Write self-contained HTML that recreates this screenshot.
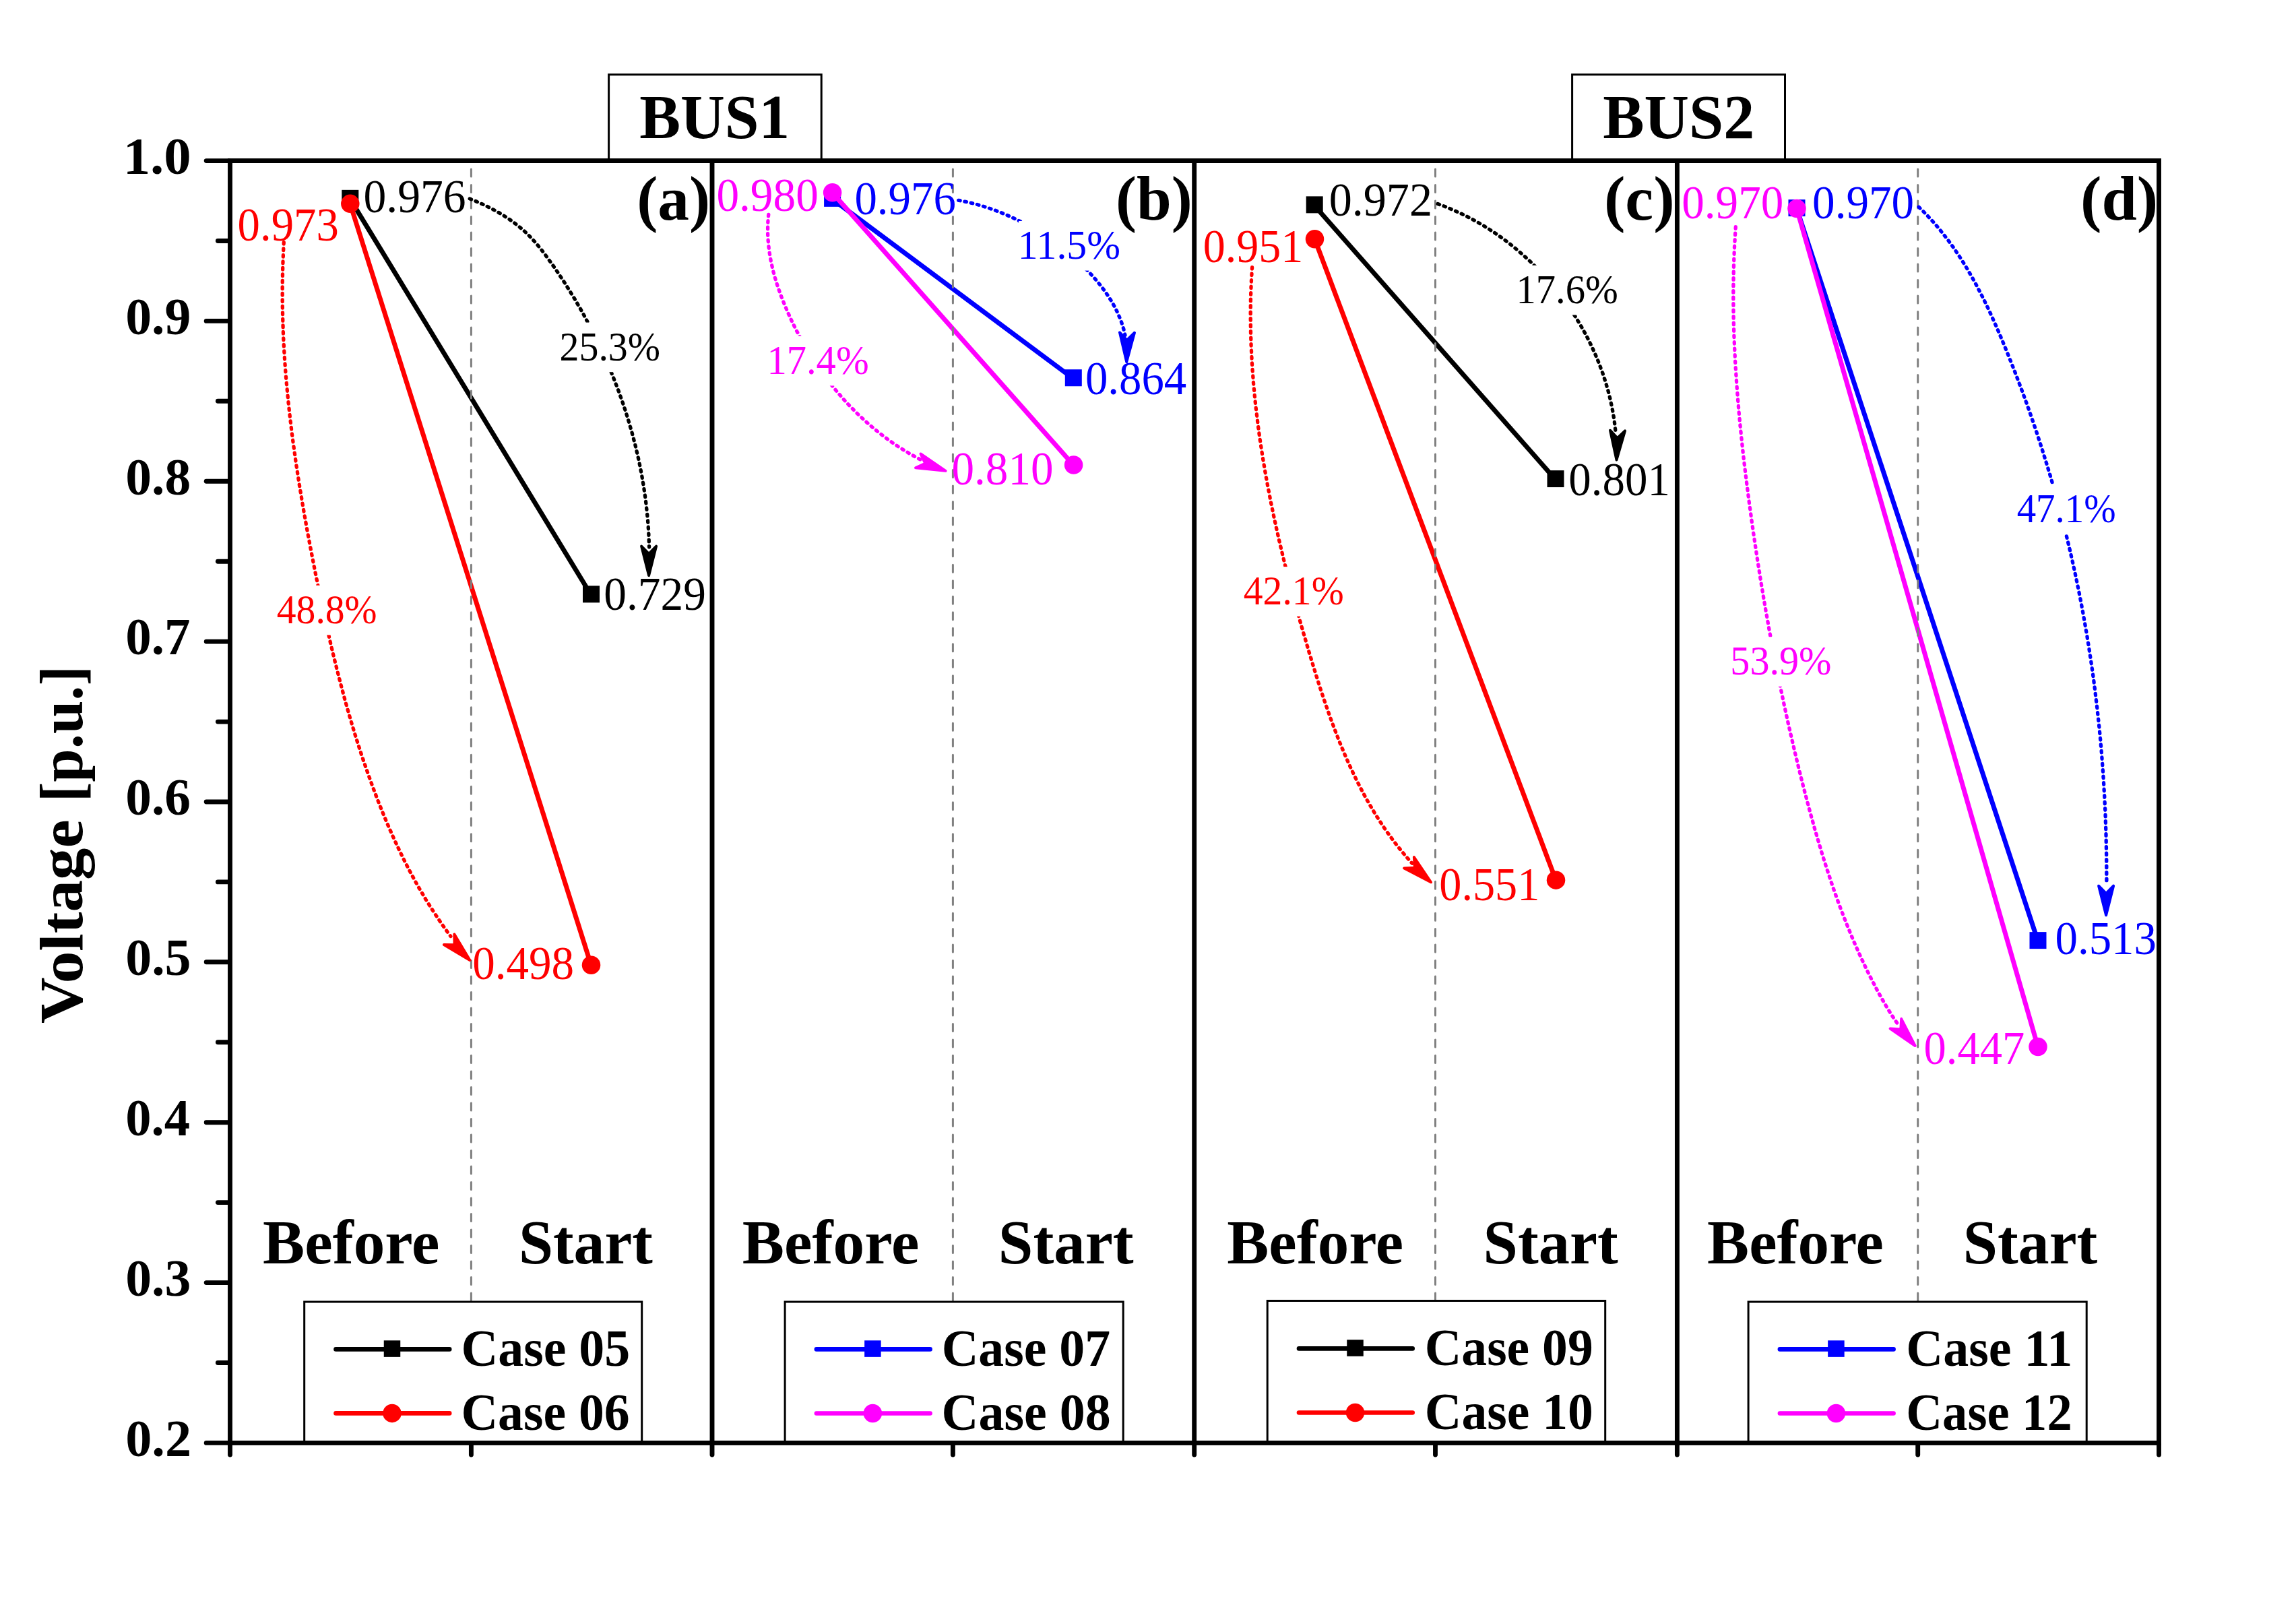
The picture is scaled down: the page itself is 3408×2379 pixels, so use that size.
<!DOCTYPE html>
<html lang="en"><head><meta charset="utf-8"><title>Voltage chart</title>
<style>html,body{margin:0;padding:0;background:#fff}body{width:3408px;height:2379px;overflow:hidden}</style></head>
<body>
<svg width="3408" height="2379" viewBox="0 0 3408 2379" font-family="'Liberation Serif', serif" style="display:block">
<rect width="3408" height="2379" fill="#fff"/>
<line x1="519.8" y1="295.6" x2="877.5" y2="883.2" stroke="#000000" stroke-width="7.0"/>
<rect x="507.30" y="281.84" width="25.0" height="25.0" fill="#000000"/>
<rect x="865.00" y="869.35" width="25.0" height="25.0" fill="#000000"/>
<line x1="519.8" y1="302.8" x2="877.5" y2="1432.6" stroke="#ff0000" stroke-width="7.0"/>
<circle cx="519.8" cy="302.37" r="13.75" fill="#ff0000"/>
<circle cx="877.5" cy="1432.21" r="13.75" fill="#ff0000"/>
<line x1="1235.6" y1="295.6" x2="1593.3" y2="562.0" stroke="#0000ff" stroke-width="7.0"/>
<rect x="1223.10" y="281.84" width="25.0" height="25.0" fill="#0000ff"/>
<rect x="1580.80" y="548.24" width="25.0" height="25.0" fill="#0000ff"/>
<line x1="1235.6" y1="286.1" x2="1593.6" y2="690.5" stroke="#ff00ff" stroke-width="7.0"/>
<circle cx="1235.6" cy="285.72" r="13.75" fill="#ff00ff"/>
<circle cx="1593.6" cy="690.08" r="13.75" fill="#ff00ff"/>
<line x1="1951.2" y1="305.2" x2="2309" y2="711.9" stroke="#000000" stroke-width="7.0"/>
<rect x="1938.70" y="291.35" width="25.0" height="25.0" fill="#000000"/>
<rect x="2296.50" y="698.09" width="25.0" height="25.0" fill="#000000"/>
<line x1="1951.5" y1="355.1" x2="2309.5" y2="1306.5" stroke="#ff0000" stroke-width="7.0"/>
<circle cx="1951.5" cy="354.70" r="13.75" fill="#ff0000"/>
<circle cx="2309.5" cy="1306.14" r="13.75" fill="#ff0000"/>
<line x1="2667" y1="309.9" x2="3025" y2="1396.9" stroke="#0000ff" stroke-width="7.0"/>
<rect x="2654.50" y="296.11" width="25.0" height="25.0" fill="#0000ff"/>
<rect x="3012.50" y="1383.13" width="25.0" height="25.0" fill="#0000ff"/>
<line x1="2667" y1="309.9" x2="3025" y2="1553.9" stroke="#ff00ff" stroke-width="7.0"/>
<circle cx="2667" cy="309.51" r="13.75" fill="#ff00ff"/>
<circle cx="3025" cy="1553.52" r="13.75" fill="#ff00ff"/>
<line x1="699.4" y1="251.1" x2="699.4" y2="1935" stroke="#808080" stroke-width="3" stroke-linecap="round" stroke-dasharray="11 12.49" stroke-dashoffset="0"/>
<line x1="1414.4" y1="251.1" x2="1414.4" y2="1935" stroke="#808080" stroke-width="3" stroke-linecap="round" stroke-dasharray="11 12.49" stroke-dashoffset="0"/>
<line x1="2130.5" y1="251.1" x2="2130.5" y2="1935" stroke="#808080" stroke-width="3" stroke-linecap="round" stroke-dasharray="11 12.49" stroke-dashoffset="0"/>
<line x1="2846.7" y1="251.1" x2="2846.7" y2="1935" stroke="#808080" stroke-width="3" stroke-linecap="round" stroke-dasharray="11 12.49" stroke-dashoffset="0"/>
<path d="M697.2,294.9 L702.4,297.1 L707.6,299.2 L712.7,301.5 L717.8,303.8 L722.8,306.2 L727.8,308.7 L732.7,311.3 L737.5,314.0 L742.3,316.7 L747.0,319.6 L751.6,322.5 L756.1,325.5 L760.6,328.7 L764.9,331.9 L769.2,335.2 L773.3,338.7 L777.4,342.2 L781.4,345.9 L785.2,349.7 L789.0,353.6 L792.6,357.6 L796.2,361.7 L799.7,365.8 L803.1,370.1 L806.5,374.4 L809.8,378.7 L813.0,383.1 L816.2,387.6 L819.4,392.0 L822.6,396.5 L825.7,401.1 L828.8,405.6 L831.8,410.2 L834.9,414.7 L837.9,419.3 L840.8,424.0 L843.7,428.6 L846.6,433.3 L849.5,438.0 L852.4,442.7 L855.2,447.4 L857.9,452.2 L860.7,456.9 L863.4,461.7 L866.1,466.5 L868.7,471.4 L871.3,476.2 L873.9,481.1 L876.5,485.9 L879.0,490.8 L881.5,495.8 L883.9,500.7 L886.3,505.6 L888.7,510.6 L891.1,515.6 L893.4,520.6 L895.7,525.6 L897.9,530.6 L900.2,535.6 L902.3,540.7 L904.5,545.7 L906.6,550.8 L908.7,555.9 L910.7,561.0 L912.7,566.1 L914.7,571.3 L916.7,576.4 L918.6,581.5 L920.4,586.7 L922.3,591.9 L924.1,597.1 L925.8,602.3 L927.6,607.5 L929.3,612.7 L930.9,617.9 L932.5,623.2 L934.1,628.4 L935.6,633.7 L937.2,639.0 L938.6,644.2 L940.0,649.5 L941.4,654.8 L942.8,660.1 L944.1,665.5 L945.3,670.8 L946.6,676.1 L947.8,681.5 L948.9,686.8 L950.0,692.2 L951.1,697.6 L952.1,703.0 L953.1,708.3 L954.0,713.7 L954.9,719.1 L955.8,724.6 L956.6,730.0 L957.4,735.4 L958.1,740.8 L958.8,746.3 L959.4,751.7 L960.0,757.2 L960.6,762.6 L961.1,768.1 L961.6,773.5 L962.0,779.0 L962.4,784.5 L962.7,790.0 L963.0,795.5 L963.2,801.0 L963.4,806.5 L963.6,812.0" fill="none" stroke="#000000" stroke-width="5.3" stroke-linecap="round" stroke-dasharray="2.6 6.9"/>
<polygon points="963.1,854.1 952.1,810.6 963.1,821.8 974.1,810.6" fill="#000000" stroke="#000000" stroke-width="4.0" stroke-linejoin="round"/>
<path d="M421.3,359.5 L420.8,369.0 L420.4,378.5 L420.0,388.0 L419.7,397.4 L419.5,406.9 L419.3,416.3 L419.2,425.8 L419.2,435.2 L419.2,444.6 L419.3,454.1 L419.5,463.5 L419.7,472.9 L420.0,482.3 L420.3,491.7 L420.7,501.1 L421.2,510.5 L421.7,519.9 L422.3,529.3 L422.9,538.7 L423.6,548.0 L424.3,557.4 L425.1,566.8 L426.0,576.1 L426.9,585.5 L427.8,594.9 L428.8,604.2 L429.8,613.6 L430.9,622.9 L432.0,632.2 L433.1,641.6 L434.3,650.9 L435.6,660.2 L436.9,669.6 L438.2,678.9 L439.5,688.2 L440.9,697.5 L442.4,706.8 L443.8,716.1 L445.3,725.4 L446.9,734.7 L448.4,744.0 L450.0,753.3 L451.6,762.6 L453.3,771.9 L454.9,781.2 L456.6,790.5 L458.4,799.8 L460.1,809.0 L461.9,818.3 L463.7,827.6 L465.5,836.9 L467.3,846.1 L469.2,855.4 L471.1,864.7 L473.0,873.9 L474.9,883.2 L476.8,892.4 L478.8,901.7 L480.8,910.9 L482.8,920.1 L484.9,929.4 L487.0,938.6 L489.1,947.8 L491.2,957.0 L493.4,966.2 L495.6,975.4 L497.9,984.5 L500.2,993.7 L502.5,1002.8 L504.9,1012.0 L507.3,1021.1 L509.7,1030.2 L512.2,1039.3 L514.7,1048.4 L517.3,1057.4 L519.9,1066.5 L522.6,1075.5 L525.3,1084.6 L528.1,1093.6 L530.9,1102.5 L533.8,1111.5 L536.7,1120.5 L539.7,1129.4 L542.8,1138.3 L545.9,1147.2 L549.0,1156.0 L552.2,1164.9 L555.5,1173.7 L558.8,1182.5 L562.2,1191.3 L565.7,1200.0 L569.2,1208.7 L572.8,1217.4 L576.5,1226.1 L580.3,1234.7 L584.1,1243.3 L588.0,1251.8 L592.0,1260.3 L596.1,1268.8 L600.2,1277.2 L604.5,1285.6 L608.8,1293.9 L613.3,1302.2 L617.8,1310.4 L622.4,1318.6 L627.2,1326.7 L632.0,1334.8 L637.0,1342.8 L642.0,1350.7 L647.2,1358.6 L652.4,1366.4 L657.8,1374.2 L663.3,1381.9 L668.9,1389.5" fill="none" stroke="#ff0000" stroke-width="5.3" stroke-linecap="round" stroke-dasharray="2.6 6.9"/>
<polygon points="697.4,1425.0 658.9,1402.1 674.6,1402.2 674.4,1386.5" fill="#ff0000" stroke="#ff0000" stroke-width="4.0" stroke-linejoin="round"/>
<path d="M1422.6,297.3 L1425.7,297.8 L1428.8,298.4 L1431.9,299.1 L1435.0,299.7 L1438.1,300.4 L1441.1,301.1 L1444.2,301.9 L1447.2,302.7 L1450.3,303.5 L1453.3,304.3 L1456.3,305.2 L1459.3,306.1 L1462.3,307.1 L1465.3,308.0 L1468.2,309.0 L1471.2,310.1 L1474.2,311.1 L1477.1,312.2 L1480.1,313.3 L1483.0,314.4 L1485.9,315.6 L1488.8,316.8 L1491.7,318.0 L1494.6,319.3 L1497.5,320.5 L1500.4,321.8 L1503.2,323.2 L1506.1,324.5 L1508.9,325.9 L1511.8,327.3 L1514.6,328.7 L1517.4,330.1 L1520.2,331.6 L1523.0,333.1 L1525.8,334.6 L1528.6,336.1 L1531.3,337.7 L1534.1,339.3 L1536.8,340.9 L1539.5,342.5 L1542.2,344.2 L1544.9,345.8 L1547.6,347.5 L1550.3,349.2 L1553.0,351.0 L1555.6,352.8 L1558.3,354.5 L1560.9,356.3 L1563.5,358.2 L1566.1,360.0 L1568.6,361.9 L1571.2,363.8 L1573.7,365.7 L1576.3,367.6 L1578.8,369.6 L1581.2,371.6 L1583.7,373.6 L1586.2,375.6 L1588.6,377.6 L1591.0,379.7 L1593.4,381.8 L1595.8,383.9 L1598.2,386.0 L1600.5,388.2 L1602.8,390.3 L1605.1,392.5 L1607.4,394.7 L1609.6,397.0 L1611.9,399.2 L1614.1,401.5 L1616.3,403.8 L1618.5,406.1 L1620.6,408.4 L1622.7,410.8 L1624.8,413.1 L1626.9,415.5 L1628.9,417.9 L1630.9,420.4 L1632.9,422.8 L1634.8,425.3 L1636.7,427.8 L1638.6,430.3 L1640.4,432.9 L1642.2,435.4 L1644.0,438.0 L1645.7,440.6 L1647.4,443.3 L1649.1,445.9 L1650.7,448.6 L1652.2,451.3 L1653.7,454.0 L1655.2,456.7 L1656.6,459.5 L1658.0,462.3 L1659.3,465.1 L1660.5,467.9 L1661.7,470.8 L1662.9,473.6 L1664.0,476.5 L1665.0,479.4 L1666.0,482.4 L1666.9,485.3 L1667.8,488.3 L1668.6,491.3 L1669.3,494.4 L1670.0,497.4" fill="none" stroke="#0000ff" stroke-width="5.3" stroke-linecap="round" stroke-dasharray="2.6 6.9"/>
<polygon points="1672.2,537.1 1662.0,493.4 1672.8,504.8 1684.0,493.8" fill="#0000ff" stroke="#0000ff" stroke-width="4.0" stroke-linejoin="round"/>
<path d="M1140.8,318.3 L1140.3,322.5 L1140.0,326.7 L1139.8,330.8 L1139.6,335.0 L1139.6,339.1 L1139.6,343.2 L1139.6,347.3 L1139.8,351.4 L1140.0,355.5 L1140.4,359.6 L1140.7,363.7 L1141.2,367.8 L1141.7,371.8 L1142.3,375.9 L1142.9,379.9 L1143.7,384.0 L1144.4,388.0 L1145.3,392.0 L1146.2,396.0 L1147.1,400.0 L1148.1,404.0 L1149.2,407.9 L1150.3,411.9 L1151.5,415.8 L1152.7,419.8 L1153.9,423.7 L1155.3,427.6 L1156.6,431.5 L1158.0,435.4 L1159.4,439.3 L1160.9,443.2 L1162.4,447.0 L1164.0,450.9 L1165.6,454.7 L1167.2,458.5 L1168.9,462.3 L1170.5,466.1 L1172.3,469.9 L1174.0,473.7 L1175.8,477.5 L1177.6,481.2 L1179.4,484.9 L1181.3,488.7 L1183.2,492.4 L1185.2,496.1 L1187.1,499.7 L1189.1,503.4 L1191.1,507.0 L1193.2,510.7 L1195.3,514.3 L1197.4,517.9 L1199.5,521.4 L1201.7,525.0 L1203.9,528.5 L1206.2,532.0 L1208.4,535.5 L1210.7,539.0 L1213.0,542.5 L1215.4,545.9 L1217.8,549.3 L1220.2,552.7 L1222.6,556.1 L1225.1,559.4 L1227.6,562.8 L1230.1,566.1 L1232.7,569.3 L1235.2,572.6 L1237.9,575.8 L1240.5,579.0 L1243.2,582.2 L1245.9,585.4 L1248.6,588.5 L1251.3,591.6 L1254.1,594.7 L1256.9,597.7 L1259.7,600.8 L1262.6,603.8 L1265.5,606.7 L1268.4,609.7 L1271.3,612.6 L1274.3,615.5 L1277.3,618.3 L1280.3,621.1 L1283.3,623.9 L1286.4,626.7 L1289.5,629.4 L1292.6,632.1 L1295.8,634.8 L1298.9,637.4 L1302.1,640.0 L1305.4,642.6 L1308.6,645.1 L1311.9,647.6 L1315.2,650.1 L1318.5,652.5 L1321.8,654.9 L1325.2,657.3 L1328.6,659.6 L1332.0,661.9 L1335.5,664.2 L1339.0,666.4 L1342.5,668.6 L1346.0,670.7 L1349.5,672.8 L1353.1,674.9 L1356.7,676.9 L1360.3,678.9 L1363.9,680.8 L1367.6,682.7" fill="none" stroke="#ff00ff" stroke-width="5.3" stroke-linecap="round" stroke-dasharray="2.6 6.9"/>
<polygon points="1403.6,698.8 1359.0,694.2 1373.2,687.7 1366.5,673.5" fill="#ff00ff" stroke="#ff00ff" stroke-width="4.0" stroke-linejoin="round"/>
<path d="M2134.1,302.6 L2138.0,304.0 L2141.9,305.4 L2145.7,306.9 L2149.5,308.5 L2153.4,310.1 L2157.1,311.7 L2160.9,313.4 L2164.7,315.1 L2168.4,316.8 L2172.1,318.6 L2175.8,320.4 L2179.5,322.3 L2183.2,324.2 L2186.8,326.2 L2190.4,328.2 L2194.0,330.3 L2197.6,332.3 L2201.2,334.5 L2204.7,336.6 L2208.2,338.8 L2211.7,341.1 L2215.2,343.3 L2218.7,345.6 L2222.1,348.0 L2225.5,350.4 L2228.9,352.8 L2232.2,355.3 L2235.6,357.7 L2238.9,360.3 L2242.2,362.8 L2245.4,365.4 L2248.7,368.1 L2251.9,370.7 L2255.0,373.4 L2258.2,376.2 L2261.3,378.9 L2264.4,381.7 L2267.5,384.6 L2270.6,387.4 L2273.6,390.3 L2276.6,393.2 L2279.5,396.2 L2282.5,399.2 L2285.4,402.2 L2288.3,405.2 L2291.1,408.3 L2293.9,411.4 L2296.7,414.5 L2299.5,417.6 L2302.2,420.8 L2304.9,424.0 L2307.6,427.3 L2310.2,430.5 L2312.8,433.8 L2315.4,437.1 L2318.0,440.5 L2320.5,443.8 L2322.9,447.2 L2325.4,450.6 L2327.8,454.0 L2330.2,457.5 L2332.5,461.0 L2334.8,464.5 L2337.1,468.0 L2339.3,471.5 L2341.5,475.1 L2343.7,478.7 L2345.8,482.3 L2347.9,485.9 L2349.9,489.6 L2352.0,493.2 L2353.9,496.9 L2355.9,500.6 L2357.8,504.3 L2359.6,508.1 L2361.5,511.8 L2363.3,515.6 L2365.0,519.4 L2366.7,523.2 L2368.4,527.0 L2370.0,530.9 L2371.6,534.7 L2373.2,538.6 L2374.7,542.5 L2376.1,546.4 L2377.6,550.3 L2379.0,554.2 L2380.3,558.1 L2381.6,562.1 L2382.9,566.0 L2384.1,570.0 L2385.2,574.0 L2386.4,578.0 L2387.5,582.0 L2388.5,586.0 L2389.5,590.0 L2390.4,594.1 L2391.3,598.1 L2392.2,602.2 L2393.0,606.2 L2393.8,610.3 L2394.5,614.4 L2395.2,618.5 L2395.8,622.6 L2396.4,626.7 L2396.9,630.8 L2397.4,634.9 L2397.8,639.0 L2398.2,643.1" fill="none" stroke="#000000" stroke-width="5.3" stroke-linecap="round" stroke-dasharray="2.6 6.9"/>
<polygon points="2399.5,682.5 2390.0,638.7 2400.6,650.2 2412.0,639.4" fill="#000000" stroke="#000000" stroke-width="4.0" stroke-linejoin="round"/>
<path d="M1858.6,396.6 L1858.1,404.7 L1857.6,412.9 L1857.2,421.1 L1856.9,429.2 L1856.6,437.4 L1856.4,445.6 L1856.3,453.8 L1856.2,461.9 L1856.2,470.1 L1856.3,478.3 L1856.4,486.5 L1856.5,494.6 L1856.8,502.8 L1857.0,511.0 L1857.4,519.2 L1857.8,527.4 L1858.2,535.5 L1858.7,543.7 L1859.3,551.9 L1859.9,560.0 L1860.5,568.2 L1861.3,576.3 L1862.0,584.5 L1862.8,592.7 L1863.7,600.8 L1864.6,608.9 L1865.6,617.1 L1866.6,625.2 L1867.6,633.3 L1868.7,641.5 L1869.8,649.6 L1871.0,657.7 L1872.3,665.8 L1873.5,673.9 L1874.8,682.0 L1876.2,690.0 L1877.5,698.1 L1879.0,706.2 L1880.4,714.2 L1881.9,722.3 L1883.5,730.3 L1885.0,738.3 L1886.6,746.4 L1888.3,754.4 L1889.9,762.4 L1891.6,770.3 L1893.4,778.3 L1895.1,786.3 L1896.9,794.2 L1898.7,802.2 L1900.6,810.1 L1902.5,818.1 L1904.4,826.0 L1906.3,833.9 L1908.3,841.8 L1910.3,849.7 L1912.3,857.6 L1914.3,865.5 L1916.4,873.4 L1918.5,881.3 L1920.6,889.2 L1922.8,897.1 L1925.0,905.0 L1927.2,912.8 L1929.4,920.7 L1931.6,928.6 L1933.9,936.5 L1936.2,944.3 L1938.5,952.2 L1940.8,960.1 L1943.1,968.0 L1945.5,975.8 L1947.9,983.7 L1950.3,991.6 L1952.7,999.4 L1955.2,1007.3 L1957.7,1015.2 L1960.2,1023.0 L1962.8,1030.8 L1965.4,1038.6 L1968.1,1046.4 L1970.8,1054.2 L1973.5,1062.0 L1976.3,1069.7 L1979.2,1077.4 L1982.1,1085.1 L1985.0,1092.7 L1988.0,1100.4 L1991.1,1107.9 L1994.3,1115.5 L1997.5,1123.0 L2000.8,1130.5 L2004.1,1137.9 L2007.6,1145.3 L2011.1,1152.7 L2014.7,1160.0 L2018.4,1167.3 L2022.1,1174.5 L2026.0,1181.6 L2029.9,1188.7 L2034.0,1195.8 L2038.1,1202.7 L2042.3,1209.7 L2046.7,1216.5 L2051.1,1223.3 L2055.6,1230.1 L2060.3,1236.7 L2065.0,1243.3 L2069.9,1249.8 L2074.9,1256.3 L2080.0,1262.6 L2085.2,1268.9 L2090.6,1275.2 L2096.1,1281.3" fill="none" stroke="#ff0000" stroke-width="5.3" stroke-linecap="round" stroke-dasharray="2.6 6.9"/>
<polygon points="2124.0,1309.3 2084.2,1288.4 2099.9,1287.7 2098.9,1272.0" fill="#ff0000" stroke="#ff0000" stroke-width="4.0" stroke-linejoin="round"/>
<path d="M2848.1,307.2 L2854.9,313.9 L2861.5,320.7 L2867.9,327.6 L2874.1,334.6 L2880.1,341.8 L2885.9,349.1 L2891.6,356.5 L2897.1,364.0 L2902.4,371.6 L2907.6,379.3 L2912.6,387.1 L2917.5,394.9 L2922.2,402.9 L2926.8,410.9 L2931.4,419.0 L2935.7,427.2 L2940.0,435.4 L2944.2,443.7 L2948.3,452.1 L2952.3,460.5 L2956.2,469.0 L2960.0,477.5 L2963.8,486.0 L2967.5,494.6 L2971.1,503.2 L2974.7,511.8 L2978.2,520.4 L2981.7,529.1 L2985.2,537.8 L2988.6,546.5 L2992.0,555.2 L2995.3,563.9 L2998.6,572.7 L3001.9,581.4 L3005.1,590.2 L3008.3,599.0 L3011.4,607.8 L3014.5,616.7 L3017.5,625.5 L3020.5,634.3 L3023.5,643.2 L3026.4,652.1 L3029.3,661.0 L3032.1,669.9 L3034.9,678.8 L3037.7,687.7 L3040.4,696.7 L3043.1,705.6 L3045.7,714.6 L3048.3,723.6 L3050.8,732.6 L3053.3,741.6 L3055.8,750.6 L3058.2,759.6 L3060.6,768.6 L3062.9,777.7 L3065.2,786.7 L3067.4,795.8 L3069.6,804.8 L3071.8,813.9 L3073.9,823.0 L3076.0,832.1 L3078.0,841.2 L3080.0,850.3 L3081.9,859.4 L3083.8,868.6 L3085.7,877.7 L3087.5,886.8 L3089.3,896.0 L3091.0,905.2 L3092.7,914.3 L3094.3,923.5 L3095.9,932.7 L3097.5,941.9 L3099.0,951.1 L3100.5,960.3 L3101.9,969.5 L3103.3,978.7 L3104.7,987.9 L3106.0,997.1 L3107.3,1006.4 L3108.5,1015.6 L3109.7,1024.8 L3110.8,1034.1 L3111.9,1043.3 L3113.0,1052.6 L3114.0,1061.9 L3115.0,1071.1 L3116.0,1080.4 L3116.9,1089.7 L3117.8,1099.0 L3118.6,1108.3 L3119.4,1117.6 L3120.1,1126.9 L3120.8,1136.2 L3121.5,1145.5 L3122.1,1154.8 L3122.7,1164.1 L3123.2,1173.4 L3123.8,1182.7 L3124.2,1192.0 L3124.7,1201.4 L3125.1,1210.7 L3125.4,1220.0 L3125.7,1229.4 L3126.0,1238.7 L3126.2,1248.0 L3126.4,1257.4 L3126.6,1266.7 L3126.7,1276.1 L3126.8,1285.4 L3126.8,1294.8 L3126.9,1304.1 L3126.8,1313.5" fill="none" stroke="#0000ff" stroke-width="5.3" stroke-linecap="round" stroke-dasharray="2.6 6.9"/>
<polygon points="3126.1,1358.2 3115.1,1314.7 3126.1,1325.9 3137.1,1314.7" fill="#0000ff" stroke="#0000ff" stroke-width="4.0" stroke-linejoin="round"/>
<path d="M2576.3,336.7 L2575.6,347.3 L2575.0,357.9 L2574.4,368.5 L2574.0,379.1 L2573.6,389.7 L2573.3,400.3 L2573.1,411.0 L2572.9,421.6 L2572.8,432.2 L2572.8,442.8 L2572.9,453.4 L2573.0,464.0 L2573.2,474.6 L2573.5,485.3 L2573.8,495.9 L2574.2,506.5 L2574.7,517.1 L2575.2,527.7 L2575.7,538.3 L2576.4,548.9 L2577.1,559.5 L2577.8,570.1 L2578.6,580.7 L2579.4,591.3 L2580.3,601.9 L2581.2,612.5 L2582.2,623.1 L2583.2,633.7 L2584.3,644.3 L2585.4,654.9 L2586.5,665.5 L2587.7,676.0 L2588.9,686.6 L2590.2,697.2 L2591.5,707.7 L2592.8,718.3 L2594.2,728.8 L2595.5,739.4 L2596.9,749.9 L2598.4,760.4 L2599.8,771.0 L2601.3,781.5 L2602.8,792.0 L2604.4,802.5 L2605.9,813.0 L2607.5,823.5 L2609.1,834.0 L2610.8,844.5 L2612.4,854.9 L2614.1,865.4 L2615.9,875.9 L2617.6,886.3 L2619.4,896.8 L2621.2,907.2 L2623.1,917.7 L2624.9,928.1 L2626.8,938.6 L2628.8,949.0 L2630.7,959.4 L2632.7,969.8 L2634.7,980.2 L2636.8,990.6 L2638.9,1001.0 L2641.0,1011.4 L2643.1,1021.8 L2645.3,1032.2 L2647.5,1042.6 L2649.8,1053.0 L2652.0,1063.3 L2654.3,1073.7 L2656.7,1084.1 L2659.1,1094.4 L2661.5,1104.8 L2663.9,1115.1 L2666.4,1125.5 L2668.9,1135.8 L2671.4,1146.1 L2674.0,1156.5 L2676.6,1166.8 L2679.3,1177.1 L2682.0,1187.4 L2684.7,1197.7 L2687.5,1208.0 L2690.4,1218.3 L2693.2,1228.6 L2696.2,1238.8 L2699.2,1249.0 L2702.2,1259.2 L2705.3,1269.4 L2708.5,1279.6 L2711.7,1289.7 L2715.1,1299.8 L2718.4,1309.9 L2721.9,1320.0 L2725.4,1330.0 L2729.0,1340.0 L2732.7,1350.0 L2736.5,1359.9 L2740.4,1369.8 L2744.4,1379.6 L2748.4,1389.4 L2752.5,1399.1 L2756.8,1408.8 L2761.1,1418.5 L2765.6,1428.1 L2770.1,1437.7 L2774.8,1447.2 L2779.6,1456.6 L2784.5,1466.0 L2789.5,1475.4 L2794.7,1484.6 L2800.0,1493.7 L2805.5,1502.8 L2811.3,1511.7 L2817.3,1520.4" fill="none" stroke="#ff00ff" stroke-width="5.3" stroke-linecap="round" stroke-dasharray="2.6 6.9"/>
<polygon points="2842.6,1552.0 2805.7,1526.6 2821.3,1527.7 2822.2,1512.1" fill="#ff00ff" stroke="#ff00ff" stroke-width="4.0" stroke-linejoin="round"/>
<rect x="829.0" y="478.6" width="153.1" height="73.6" fill="#fff"/>
<text x="830.51" y="534.80" font-size="61" fill="#000000" textLength="149.55" lengthAdjust="spacingAndGlyphs">25.3%</text>
<rect x="407.8" y="868.8" width="153.9" height="73.6" fill="#fff"/>
<text x="410.74" y="925.00" font-size="61" fill="#ff0000" textLength="148.91" lengthAdjust="spacingAndGlyphs">48.8%</text>
<rect x="1512.1" y="328.0" width="152.9" height="73.6" fill="#fff"/>
<text x="1510.83" y="384.20" font-size="61" fill="#0000ff" textLength="152.18" lengthAdjust="spacingAndGlyphs">11.5%</text>
<rect x="1139.6" y="498.8" width="152.1" height="73.6" fill="#fff"/>
<text x="1138.44" y="555.00" font-size="61" fill="#ff00ff" textLength="151.24" lengthAdjust="spacingAndGlyphs">17.4%</text>
<rect x="2251.6" y="393.8" width="152.2" height="73.6" fill="#fff"/>
<text x="2250.44" y="450.00" font-size="61" fill="#000000" textLength="151.35" lengthAdjust="spacingAndGlyphs">17.6%</text>
<rect x="1842.8" y="841.1" width="154.0" height="73.6" fill="#fff"/>
<text x="1845.74" y="897.30" font-size="61" fill="#ff0000" textLength="149.02" lengthAdjust="spacingAndGlyphs">42.1%</text>
<rect x="2990.7" y="718.4" width="152.1" height="73.6" fill="#fff"/>
<text x="2993.65" y="774.60" font-size="61" fill="#0000ff" textLength="147.08" lengthAdjust="spacingAndGlyphs">47.1%</text>
<rect x="2567.7" y="945.2" width="152.9" height="73.6" fill="#fff"/>
<text x="2568.36" y="1001.40" font-size="61" fill="#ff00ff" textLength="150.20" lengthAdjust="spacingAndGlyphs">53.9%</text>
<text x="539.48" y="315.00" font-size="70.4" fill="#000000" textLength="152.13" lengthAdjust="spacingAndGlyphs">0.976</text>
<text x="352.61" y="356.80" font-size="70.4" fill="#ff0000" textLength="150.17" lengthAdjust="spacingAndGlyphs">0.973</text>
<text x="896.29" y="905.10" font-size="70.4" fill="#000000" textLength="151.53" lengthAdjust="spacingAndGlyphs">0.729</text>
<text x="701.20" y="1453.10" font-size="70.4" fill="#ff0000" textLength="151.00" lengthAdjust="spacingAndGlyphs">0.498</text>
<text x="1063.39" y="312.60" font-size="70.4" fill="#ff00ff" textLength="151.41" lengthAdjust="spacingAndGlyphs">0.980</text>
<text x="1268.41" y="318.00" font-size="70.4" fill="#0000ff" textLength="150.48" lengthAdjust="spacingAndGlyphs">0.976</text>
<text x="1610.91" y="584.90" font-size="70.4" fill="#0000ff" textLength="150.33" lengthAdjust="spacingAndGlyphs">0.864</text>
<text x="1412.50" y="718.90" font-size="70.4" fill="#ff00ff" textLength="151.10" lengthAdjust="spacingAndGlyphs">0.810</text>
<text x="1972.66" y="319.80" font-size="70.4" fill="#000000" textLength="153.37" lengthAdjust="spacingAndGlyphs">0.972</text>
<text x="1785.64" y="389.10" font-size="70.4" fill="#ff0000" textLength="148.62" lengthAdjust="spacingAndGlyphs">0.951</text>
<text x="2328.30" y="734.60" font-size="70.4" fill="#000000" textLength="150.61" lengthAdjust="spacingAndGlyphs">0.801</text>
<text x="2136.33" y="1336.00" font-size="70.4" fill="#ff0000" textLength="149.04" lengthAdjust="spacingAndGlyphs">0.551</text>
<text x="2496.20" y="324.00" font-size="70.4" fill="#ff00ff" textLength="151.10" lengthAdjust="spacingAndGlyphs">0.970</text>
<text x="2690.10" y="323.60" font-size="70.4" fill="#0000ff" textLength="151.10" lengthAdjust="spacingAndGlyphs">0.970</text>
<text x="3050.51" y="1416.00" font-size="70.4" fill="#0000ff" textLength="150.48" lengthAdjust="spacingAndGlyphs">0.513</text>
<text x="2855.52" y="1578.90" font-size="70.4" fill="#ff00ff" textLength="149.76" lengthAdjust="spacingAndGlyphs">0.447</text>
<text x="390.10" y="1875.00" font-size="93" font-weight="bold" fill="#000" textLength="262.31" lengthAdjust="spacingAndGlyphs">Before</text>
<text x="1101.69" y="1875.00" font-size="93" font-weight="bold" fill="#000" textLength="262.72" lengthAdjust="spacingAndGlyphs">Before</text>
<text x="1821.30" y="1875.00" font-size="93" font-weight="bold" fill="#000" textLength="261.81" lengthAdjust="spacingAndGlyphs">Before</text>
<text x="2534.10" y="1875.00" font-size="93" font-weight="bold" fill="#000" textLength="261.81" lengthAdjust="spacingAndGlyphs">Before</text>
<text x="769.99" y="1875.00" font-size="93" font-weight="bold" fill="#000" textLength="198.82" lengthAdjust="spacingAndGlyphs">Start</text>
<text x="1481.84" y="1875.00" font-size="93" font-weight="bold" fill="#000" textLength="200.88" lengthAdjust="spacingAndGlyphs">Start</text>
<text x="2201.56" y="1875.00" font-size="93" font-weight="bold" fill="#000" textLength="200.16" lengthAdjust="spacingAndGlyphs">Start</text>
<text x="2913.67" y="1875.00" font-size="93" font-weight="bold" fill="#000" textLength="199.65" lengthAdjust="spacingAndGlyphs">Start</text>
<text x="945.16" y="325.60" font-size="93" font-weight="bold" fill="#000" textLength="108.93" lengthAdjust="spacingAndGlyphs">(a)</text>
<text x="1656.07" y="325.60" font-size="93" font-weight="bold" fill="#000" textLength="113.77" lengthAdjust="spacingAndGlyphs">(b)</text>
<text x="2380.91" y="325.60" font-size="93" font-weight="bold" fill="#000" textLength="104.74" lengthAdjust="spacingAndGlyphs">(c)</text>
<text x="3088.02" y="325.60" font-size="93" font-weight="bold" fill="#000" textLength="115.17" lengthAdjust="spacingAndGlyphs">(d)</text>
<rect x="451.7" y="1932" width="501.00000000000006" height="209.4" fill="#fff" stroke="#000" stroke-width="3"/>
<line x1="498.5" y1="2002.4" x2="667.2" y2="2002.4" stroke="#000000" stroke-width="6.6" stroke-linecap="round"/>
<rect x="569.75" y="1989.35" width="24.5" height="24.5" fill="#000000"/>
<line x1="498.5" y1="2097.4" x2="667.2" y2="2097.4" stroke="#ff0000" stroke-width="6.6" stroke-linecap="round"/>
<circle cx="582.0" cy="2097.4" r="13.75" fill="#ff0000"/>
<text x="684.43" y="2027.00" font-size="77.5" font-weight="bold" fill="#000" textLength="250.81" lengthAdjust="spacingAndGlyphs">Case 05</text>
<text x="684.44" y="2121.80" font-size="77.5" font-weight="bold" fill="#000" textLength="250.19" lengthAdjust="spacingAndGlyphs">Case 06</text>
<rect x="1165.1" y="1932" width="502.10000000000014" height="209.4" fill="#fff" stroke="#000" stroke-width="3"/>
<line x1="1211.9" y1="2002.4" x2="1380.6" y2="2002.4" stroke="#0000ff" stroke-width="6.6" stroke-linecap="round"/>
<rect x="1283.15" y="1989.35" width="24.5" height="24.5" fill="#0000ff"/>
<line x1="1211.9" y1="2097.5" x2="1380.6" y2="2097.5" stroke="#ff00ff" stroke-width="6.6" stroke-linecap="round"/>
<circle cx="1295.3999999999999" cy="2097.5" r="13.75" fill="#ff00ff"/>
<text x="1397.63" y="2027.00" font-size="77.5" font-weight="bold" fill="#000" textLength="250.53" lengthAdjust="spacingAndGlyphs">Case 07</text>
<text x="1397.62" y="2121.90" font-size="77.5" font-weight="bold" fill="#000" textLength="251.15" lengthAdjust="spacingAndGlyphs">Case 08</text>
<rect x="1881.2" y="1930.5" width="501.4999999999998" height="210.9" fill="#fff" stroke="#000" stroke-width="3"/>
<line x1="1928.0" y1="2001.4" x2="2096.7" y2="2001.4" stroke="#000000" stroke-width="6.6" stroke-linecap="round"/>
<rect x="1999.25" y="1988.35" width="24.5" height="24.5" fill="#000000"/>
<line x1="1928.0" y1="2096.5" x2="2096.7" y2="2096.5" stroke="#ff0000" stroke-width="6.6" stroke-linecap="round"/>
<circle cx="2011.5" cy="2096.5" r="13.75" fill="#ff0000"/>
<text x="2114.74" y="2026.00" font-size="77.5" font-weight="bold" fill="#000" textLength="249.97" lengthAdjust="spacingAndGlyphs">Case 09</text>
<text x="2114.74" y="2120.90" font-size="77.5" font-weight="bold" fill="#000" textLength="250.22" lengthAdjust="spacingAndGlyphs">Case 10</text>
<rect x="2595.1" y="1932" width="502.0999999999999" height="209.4" fill="#fff" stroke="#000" stroke-width="3"/>
<line x1="2641.9" y1="2002.4" x2="2810.6" y2="2002.4" stroke="#0000ff" stroke-width="6.6" stroke-linecap="round"/>
<rect x="2713.15" y="1989.35" width="24.5" height="24.5" fill="#0000ff"/>
<line x1="2641.9" y1="2097.5" x2="2810.6" y2="2097.5" stroke="#ff00ff" stroke-width="6.6" stroke-linecap="round"/>
<circle cx="2725.4" cy="2097.5" r="13.75" fill="#ff00ff"/>
<text x="2829.22" y="2027.00" font-size="77.5" font-weight="bold" fill="#000" textLength="247.11" lengthAdjust="spacingAndGlyphs">Case 11</text>
<text x="2829.29" y="2121.90" font-size="77.5" font-weight="bold" fill="#000" textLength="246.38" lengthAdjust="spacingAndGlyphs">Case 12</text>
<rect x="903.6" y="110.7" width="315.6" height="127.9" fill="#fff" stroke="#000" stroke-width="3"/>
<text x="949.13" y="204.90" font-size="93" font-weight="bold" fill="#000" textLength="223.07" lengthAdjust="spacingAndGlyphs">BUS1</text>
<rect x="2333.6" y="110.7" width="315.9" height="127.9" fill="#fff" stroke="#000" stroke-width="3"/>
<text x="2379.22" y="204.90" font-size="93" font-weight="bold" fill="#000" textLength="224.98" lengthAdjust="spacingAndGlyphs">BUS2</text>
<g stroke="#000" stroke-width="6.9" fill="none">
<rect x="341.5" y="238.55" width="2863.0" height="1902.9"/>
<line x1="1057.0" y1="238.55" x2="1057.0" y2="2141.4"/>
<line x1="1772.7" y1="238.55" x2="1772.7" y2="2141.4"/>
<line x1="2489.4" y1="238.55" x2="2489.4" y2="2141.4"/>
</g>
<g stroke="#000" stroke-width="6.9" stroke-linecap="round">
<line x1="306.2" y1="238.6" x2="339.5" y2="238.6"/>
<line x1="323.4" y1="357.5" x2="339.5" y2="357.5"/>
<line x1="306.2" y1="476.4" x2="339.5" y2="476.4"/>
<line x1="323.4" y1="595.3" x2="339.5" y2="595.3"/>
<line x1="306.2" y1="714.3" x2="339.5" y2="714.3"/>
<line x1="323.4" y1="833.2" x2="339.5" y2="833.2"/>
<line x1="306.2" y1="952.1" x2="339.5" y2="952.1"/>
<line x1="323.4" y1="1071.1" x2="339.5" y2="1071.1"/>
<line x1="306.2" y1="1190.0" x2="339.5" y2="1190.0"/>
<line x1="323.4" y1="1308.9" x2="339.5" y2="1308.9"/>
<line x1="306.2" y1="1427.8" x2="339.5" y2="1427.8"/>
<line x1="323.4" y1="1546.8" x2="339.5" y2="1546.8"/>
<line x1="306.2" y1="1665.7" x2="339.5" y2="1665.7"/>
<line x1="323.4" y1="1784.6" x2="339.5" y2="1784.6"/>
<line x1="306.2" y1="1903.6" x2="339.5" y2="1903.6"/>
<line x1="323.4" y1="2022.5" x2="339.5" y2="2022.5"/>
<line x1="306.2" y1="2141.4" x2="339.5" y2="2141.4"/>
<line x1="341.5" y1="2144.4" x2="341.5" y2="2159.1"/>
<line x1="699.4" y1="2144.4" x2="699.4" y2="2159.1"/>
<line x1="1057.0" y1="2144.4" x2="1057.0" y2="2159.1"/>
<line x1="1414.4" y1="2144.4" x2="1414.4" y2="2159.1"/>
<line x1="1772.7" y1="2144.4" x2="1772.7" y2="2159.1"/>
<line x1="2130.5" y1="2144.4" x2="2130.5" y2="2159.1"/>
<line x1="2489.4" y1="2144.4" x2="2489.4" y2="2159.1"/>
<line x1="2846.7" y1="2144.4" x2="2846.7" y2="2159.1"/>
<line x1="3204.5" y1="2144.4" x2="3204.5" y2="2159.1"/>
</g>
<text x="182.67" y="257.85" font-size="77.5" font-weight="bold" fill="#000" textLength="101.16" lengthAdjust="spacingAndGlyphs">1.0</text>
<text x="186.19" y="495.71" font-size="77.5" font-weight="bold" fill="#000" textLength="97.27" lengthAdjust="spacingAndGlyphs">0.9</text>
<text x="186.20" y="733.57" font-size="77.5" font-weight="bold" fill="#000" textLength="97.01" lengthAdjust="spacingAndGlyphs">0.8</text>
<text x="186.22" y="971.43" font-size="77.5" font-weight="bold" fill="#000" textLength="96.35" lengthAdjust="spacingAndGlyphs">0.7</text>
<text x="186.20" y="1209.29" font-size="77.5" font-weight="bold" fill="#000" textLength="96.74" lengthAdjust="spacingAndGlyphs">0.6</text>
<text x="186.18" y="1447.15" font-size="77.5" font-weight="bold" fill="#000" textLength="97.41" lengthAdjust="spacingAndGlyphs">0.5</text>
<text x="186.23" y="1685.01" font-size="77.5" font-weight="bold" fill="#000" textLength="95.83" lengthAdjust="spacingAndGlyphs">0.4</text>
<text x="186.19" y="1922.87" font-size="77.5" font-weight="bold" fill="#000" textLength="97.14" lengthAdjust="spacingAndGlyphs">0.3</text>
<text x="186.17" y="2160.73" font-size="77.5" font-weight="bold" fill="#000" textLength="97.95" lengthAdjust="spacingAndGlyphs">0.2</text>
<text transform="translate(121.6,1519.1) rotate(-90)" font-size="91" font-weight="bold" textLength="302.7" lengthAdjust="spacingAndGlyphs">Voltage</text>
<text transform="translate(121.6,1190.3) rotate(-90)" font-size="91" font-weight="bold" textLength="202.4" lengthAdjust="spacingAndGlyphs">[p.u.]</text>
</svg>
</body></html>
